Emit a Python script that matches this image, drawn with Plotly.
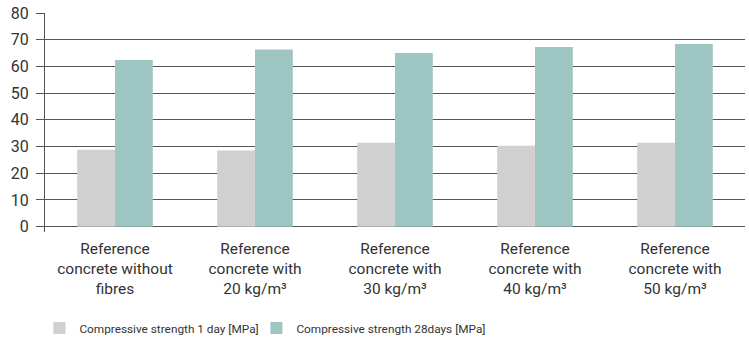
import plotly.graph_objects as go

categories = [
    "Reference<br>concrete without<br>fibres",
    "Reference<br>concrete with<br>20 kg/m³",
    "Reference<br>concrete with<br>30 kg/m³",
    "Reference<br>concrete with<br>40 kg/m³",
    "Reference<br>concrete with<br>50 kg/m³",
]
series_names = ["Compressive strength 1 day [MPa]", "Compressive strength 28days [MPa]"]
day1 = [28.8, 28.5, 31.4, 30.3, 31.4]
day28 = [62.4, 66.3, 65.0, 67.3, 68.4]
ytick_vals = [0, 10, 20, 30, 40, 50, 60, 70, 80]

FONT = "Roboto, sans-serif"
TXT = "#333333"
GRID = "#555555"

fig = go.Figure()
fig.add_trace(go.Bar(x=categories, y=day1, name=series_names[0], marker_color="#d0d0d0",
                     marker_line_width=0, legend="legend"))
fig.add_trace(go.Bar(x=categories, y=day28, name=series_names[1], marker_color="#9dc6c2",
                     marker_line_width=0, legend="legend2"))

leg_common = dict(orientation="h", xanchor="left", y=-0.438, yanchor="middle",
                  font=dict(size=11.8, family=FONT, color=TXT), itemwidth=30,
                  bgcolor="rgba(0,0,0,0)")

fig.update_layout(
    width=749, height=340,
    margin=dict(l=45, r=4, t=13, b=108, autoexpand=False),
    paper_bgcolor="white", plot_bgcolor="white",
    barmode="group", bargap=0.46, bargroupgap=0.0,
    font=dict(family=FONT, color=TXT, size=15),
    showlegend=True,
    legend=dict(x=-0.008, **leg_common),
    legend2=dict(x=0.302, **leg_common),
)
fig.update_xaxes(showgrid=False, showline=False, ticks="", tickfont=dict(size=15.5),
                 fixedrange=True, automargin=False, ticklabelstandoff=5)
fig.update_yaxes(range=[-2, 80], tickvals=ytick_vals, showgrid=True, gridcolor=GRID,
                 gridwidth=1, zeroline=False, showline=True, linecolor=GRID, linewidth=1,
                 ticks="outside", ticklen=8, tickcolor=GRID, tickwidth=1,
                 tickfont=dict(size=16), ticklabelstandoff=4, automargin=False,
                 fixedrange=True)

fig.write_html(
    "out.html",
    config={"displayModeBar": False},
    post_script="document.body.style.margin='0';document.body.style.overflow='hidden';",
)
